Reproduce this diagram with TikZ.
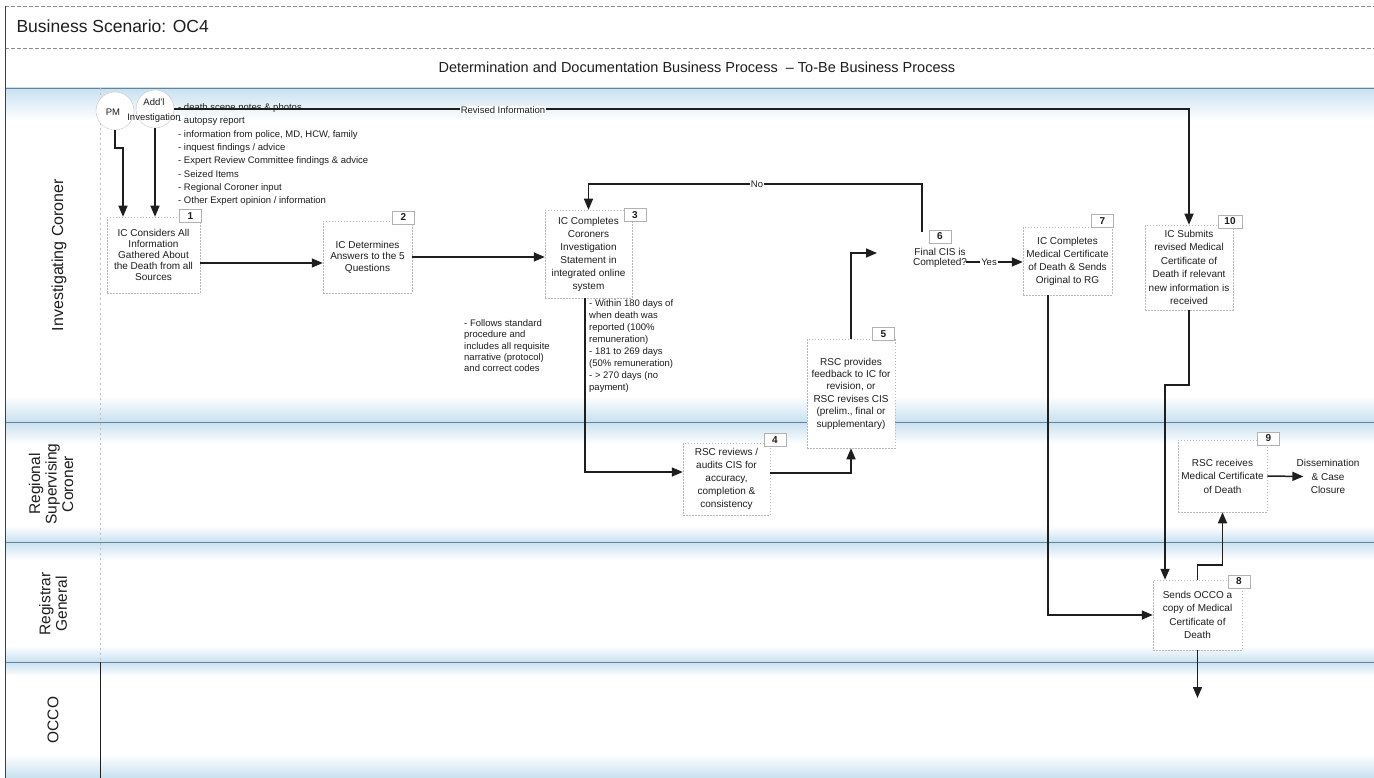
\documentclass[tikz,border=0pt]{standalone}
\usepackage{fontspec}
\setmainfont{Liberation Sans}
\usetikzlibrary{arrows.meta,calc}
\definecolor{tint}{RGB}{200,224,241}
\definecolor{laneline}{RGB}{105,130,150}
\definecolor{ink}{RGB}{30,30,30}
\begin{document}
\begin{tikzpicture}[x=1pt,y=-1pt,
  every node/.style={font=\fontsize{10}{12.5}\selectfont, text=ink},
  proc/.style={draw=black!28, dash pattern=on 1.5pt off 1.5pt, line width=0.5pt, fill=white, align=center, inner sep=1pt},
  numbox/.style={draw=black!30, line width=0.5pt, fill=white, font=\fontsize{10}{12}\selectfont\bfseries, minimum width=22pt, minimum height=13pt, inner sep=0pt},
  flow/.style={draw=ink, line width=1.5pt, -{Triangle[length=11pt,width=9pt]}},
  note/.style={align=left, inner sep=0pt},
  lanelabel/.style={rotate=90, align=center, font=\fontsize{15.5}{16.5}\selectfont},
  actor/.style={circle, draw=black!22, fill=white, minimum size=38pt, inner sep=0pt},
  lbl/.style={fill=white, inner sep=1pt, font=\fontsize{9.5}{11}\selectfont}
]
\useasboundingbox (0,0) rectangle (1374,778);
\fill[white] (0,0) rectangle (1374,778);

% tint bands
\shade[top color=tint, bottom color=white] (5,88) rectangle (1374,120);
\shade[top color=white, bottom color=tint] (5,396) rectangle (1374,422);
\shade[top color=tint, bottom color=white] (5,422) rectangle (1374,444);
\shade[top color=white, bottom color=tint] (5,526) rectangle (1374,542);
\shade[top color=tint, bottom color=white] (5,542) rectangle (1374,560);
\shade[top color=white, bottom color=tint] (5,646) rectangle (1374,662);
\shade[top color=tint, bottom color=white] (5,662) rectangle (1374,676);
\shade[top color=white, bottom color=tint] (5,754) rectangle (1374,778);

% frame and lane lines
\draw[black!45, dash pattern=on 4pt off 2pt, line width=0.6pt] (5,6) -- (1374,6);
\draw[black!45, dash pattern=on 4pt off 2pt, line width=0.6pt] (5,48) -- (1374,48);
\draw[laneline, line width=0.7pt] (5,88) -- (1374,88);
\draw[laneline, line width=0.8pt] (5,422) -- (1374,422);
\draw[laneline, line width=0.8pt] (5,542) -- (1374,542);
\draw[laneline, line width=0.8pt] (5,662) -- (1374,662);
\draw[black!75, line width=0.8pt] (5,6) -- (5,778);
\draw[black!25, dash pattern=on 2pt off 3pt, line width=0.5pt] (100,88) -- (100,662);
\draw[ink, line width=0.9pt] (100,662) -- (100,778);

% titles
\node[anchor=west, font=\fontsize{17.5}{20}\selectfont] (title) at (13,26) {Business Scenario: OC4};
\node[anchor=west, font=\fontsize{14.5}{16}\selectfont] (head) at (435,67) {Determination and Documentation Business Process~~– To-Be Business Process};

% lane labels
\node[lanelabel, font=\fontsize{16}{18}\selectfont] (lic) at (59,255) {Investigating Coroner};
\node[lanelabel] (lrsc) at (51,484) {Regional\\Supervising\\Coroner};
\node[lanelabel] (lrg) at (53,604) {Registrar\\General};
\node[lanelabel] (locco) at (53,720) {OCCO};

% actors
\node[actor] (pm) at (115,111) {};
\node[actor] (add) at (155,109) {};
\node[font=\fontsize{9.5}{11}\selectfont] (pmt) at (113,112) {PM};
\node[align=center, font=\fontsize{9.5}{14.5}\selectfont] (addt) at (154,110.5) {Add'l\\Investigation};

% information sources
\node[note, anchor=north west, font=\fontsize{9.5}{13.3}\selectfont] (src) at (178,103.5)
  {- death scene notes \& photos\\- autopsy report\\- information from police, MD, HCW, family\\- inquest findings / advice\\- Expert Review Committee findings \& advice\\- Seized Items\\- Regional Coroner input\\- Other Expert opinion / information};

% process boxes
\node[proc, minimum width=93pt, minimum height=76pt, font=\fontsize{10}{11}\selectfont] (b1) at (153.5,255) {IC Considers All\\Information\\Gathered About\\the Death from all\\Sources};
\node[proc, minimum width=89pt, minimum height=72pt, font=\fontsize{10}{11.5}\selectfont] (b2) at (367.5,257) {IC Determines\\Answers to the 5\\Questions};
\node[proc, minimum width=87pt, minimum height=88pt, font=\fontsize{10}{13}\selectfont] (b3) at (588.5,254) {IC Completes\\Coroners\\Investigation\\Statement in\\integrated online\\system};
\node[proc, minimum width=87pt, minimum height=72pt, font=\fontsize{10}{12.8}\selectfont] (b4) at (726.5,479) {RSC reviews /\\audits CIS for\\accuracy,\\completion \&\\consistency};
\node[proc, minimum width=88pt, minimum height=109pt, font=\fontsize{10}{12.4}\selectfont] (b5) at (851,393.5) {RSC provides\\feedback to IC for\\revision, or\\RSC revises CIS\\(prelim., final or\\supplementary)};
\node[align=center, inner sep=1pt, font=\fontsize{10}{10.5}\selectfont] (b6) at (940,258) {Final CIS is\\Completed?};
\node[proc, minimum width=89pt, minimum height=68pt, font=\fontsize{10}{13}\selectfont] (b7) at (1067.5,261) {IC Completes\\Medical Certificate\\of Death \& Sends\\Original to RG};
\node[proc, minimum width=88pt, minimum height=85pt, font=\fontsize{10}{13.4}\selectfont] (b10) at (1189,267.5) {IC Submits\\revised Medical\\Certificate of\\Death if relevant\\new information is\\received};
\node[proc, minimum width=89pt, minimum height=70pt, font=\fontsize{10}{13.3}\selectfont] (b8) at (1197.5,615) {Sends OCCO a\\copy of Medical\\Certificate of\\Death};
\node[proc, minimum width=89pt, minimum height=72pt, font=\fontsize{10}{13.5}\selectfont] (b9) at (1222.5,476) {RSC receives\\Medical Certificate\\of Death};
\node[align=center, inner sep=1pt, font=\fontsize{10}{13.5}\selectfont] (dis) at (1328,476.5) {Dissemination\\\& Case\\Closure};

% number tags
\node[numbox] (n1) at (190.5,216) {1};
\node[numbox] (n2) at (403.5,217.5) {2};
\node[numbox] (n3) at (635,215) {3};
\node[numbox] (n4) at (775,440) {4};
\node[numbox] (n5) at (883.5,334) {5};
\node[numbox] (n6) at (940,236.5) {6};
\node[numbox] (n7) at (1102.5,221) {7};
\node[numbox, minimum width=24pt] (n10) at (1230,221.5) {10};
\node[numbox] (n8) at (1239,581.5) {8};
\node[numbox] (n9) at (1268.5,438.5) {9};

% annotations
\node[note, anchor=north west, font=\fontsize{9.5}{12}\selectfont] (tnote) at (589,299.5)
  {- Within 180 days of\\when death was\\reported (100\%\\remuneration)\\- 181 to 269 days\\(50\% remuneration)\\- > 270 days (no\\payment)};
\node[note, anchor=north west, font=\fontsize{9.5}{11.3}\selectfont] (pnote) at (464,319.5)
  {- Follows standard\\procedure and\\includes all requisite\\narrative (protocol)\\and correct codes};

% connectors
\coordinate (pmk) at (123,148);
\draw[flow] (pm.south) |- (pmk) -- (pmk |- b1.north);
\draw[flow] (add.south) -- (add.south |- b1.north);
\draw[flow] (add.east) -- (add.east -| b10.north) -- (b10.north);
\node[lbl] (rev) at (503,110) {Revised Information};

\coordinate (r12) at (0,263);
\draw[flow] (b1.east |- r12) -- (b2.west |- r12);
\coordinate (r23) at (0,257);
\draw[flow] (b2.east |- r23) -- (b3.west |- r23);

\coordinate (no0) at (922,232);
\coordinate (k6) at (922,184);
\draw[flow] (no0) -- (k6) -| (b3.north);
\node[lbl] (nolbl) at (757,184) {No};

\coordinate (k34) at (585,472);
\draw[flow] (k34 |- b3.south) -- (k34) -- (k34 -| b4.west);
\coordinate (k45) at (851,473);
\draw[flow] (b4.east |- k45) -- (k45) -- (b5.south);

\coordinate (in6) at (877,253);
\draw[flow] (b5.north) |- (in6);
\coordinate (out6) at (966,262);
\draw[flow] (out6) -- (out6 -| b7.west);
\node[lbl] (yes) at (989,262) {Yes};

\coordinate (k78) at (1048,615);
\draw[flow] (k78 |- b7.south) -- (k78) -- (b8.west);
\coordinate (k108) at (1165,385);
\draw[flow] (b10.south) |- (k108) -- (k108 |- b8.north);
\coordinate (k89) at (1222.5,565);
\draw[flow] (b8.north) |- (k89) -- (b9.south);
\draw[flow] (b9.east) -- ([xshift=8pt]dis.west);
\coordinate (occo8) at (1197.5,698);
\draw[flow] (b8.south) -- (occo8);
\end{tikzpicture}
\end{document}
